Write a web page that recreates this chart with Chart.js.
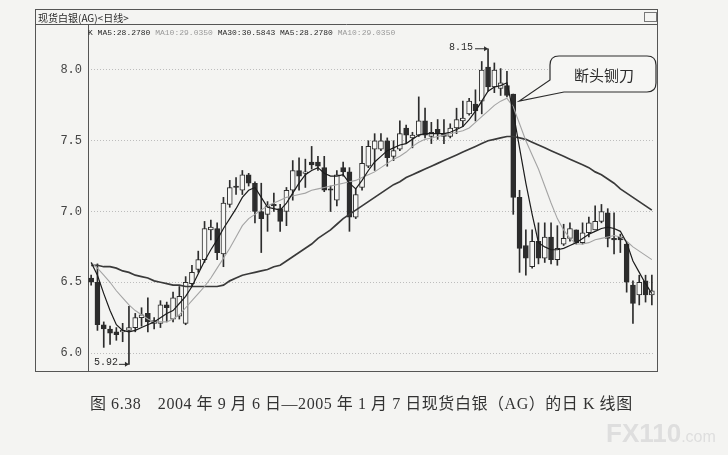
<!DOCTYPE html>
<html>
<head>
<meta charset="utf-8">
<script src="https://cdn.jsdelivr.net/npm/chart.js@4.4.1/dist/chart.umd.min.js"></script>
<style>
  body { margin: 0; background: #f4f4f2; }
  #wrap { position: relative; width: 728px; height: 455px; overflow: hidden; }
  #c { position: absolute; left: 0; top: 0; }
  .txt { position: absolute; white-space: nowrap; color: #2a2a2a; }
  .mono { font-family: "Liberation Mono", "DejaVu Sans Mono", monospace; }
  .light { color: #9a9a9a; }
</style>
</head>
<body>
<div id="wrap">
  <canvas id="c" width="728" height="455"></canvas>
  <div class="txt" style="left:38px;top:10px;font:10px 'Noto Sans CJK SC';">现货白银(AG)&lt;日线&gt;</div>
  <div class="txt mono" style="left:88px;top:28px;font-size:8px;">K MA5:28.2780 <span class="light">MA10:29.0350</span> MA30:30.5843 MA5:28.2780 <span class="light">MA10:29.0350</span></div>
  <div style="position:absolute;left:644px;top:12px;width:11px;height:8px;border:1px solid #777;"></div>
  <div id="hiLabel" class="txt mono" style="font-size:10px;">8.15</div>
  <div id="loLabel" class="txt mono" style="font-size:10px;">5.92</div>
  <div class="txt" style="left:574px;top:64px;font:15px 'Noto Sans CJK SC';">断头铡刀</div>
  <div class="txt" style="left:90px;top:390px;font:16px 'Liberation Serif','Noto Sans CJK SC';letter-spacing:0.55px;color:#333;">图 6.38　2004 年 9 月 6 日—2005 年 1 月 7 日现货白银（AG）的日 K 线图</div>
  <div class="txt" style="left:606px;top:418px;font:bold 26px 'Liberation Sans';color:#dedede;">FX110<span style="font-size:16px;font-weight:normal;">.com</span></div>
</div>
<script>
// daily candles
const opens = [6.53, 6.50, 6.20, 6.17, 6.15, 6.15, 6.16, 6.18, 6.25, 6.28,
  6.21, 6.21, 6.34, 6.24, 6.26, 6.21, 6.49, 6.59, 6.66, 6.87,
  6.88, 6.70, 7.05, 7.18, 7.15, 7.26, 7.20, 7.00, 6.98, 7.05,
  7.02, 7.00, 7.15, 7.29, 7.27, 7.35, 7.35, 7.31, 7.16, 7.08,
  7.31, 7.28, 6.96, 7.17, 7.32, 7.44, 7.44, 7.50, 7.39, 7.44,
  7.59, 7.52, 7.54, 7.64, 7.53, 7.58, 7.55, 7.53, 7.59, 7.64,
  7.69, 7.76, 7.78, 8.02, 7.88, 7.87, 7.89, 7.83, 7.10, 6.76,
  6.61, 6.79, 6.67, 6.82, 6.66, 6.77, 6.81, 6.87, 6.78, 6.85,
  6.87, 6.93, 6.99, 6.81, 6.82, 6.77, 6.48, 6.41, 6.51, 6.41]
const closes = [6.50, 6.20, 6.17, 6.14, 6.13, 6.16, 6.18, 6.25, 6.27, 6.22,
  6.23, 6.34, 6.32, 6.39, 6.40, 6.50, 6.57, 6.66, 6.88, 6.89,
  6.71, 7.06, 7.17, 7.17, 7.26, 7.20, 7.00, 6.95, 7.04, 7.04,
  6.93, 7.15, 7.29, 7.25, 7.28, 7.33, 7.32, 7.15, 7.15, 7.26,
  7.28, 6.96, 7.12, 7.34, 7.46, 7.50, 7.50, 7.38, 7.43, 7.55,
  7.54, 7.54, 7.64, 7.54, 7.56, 7.55, 7.53, 7.59, 7.65, 7.66,
  7.78, 7.71, 8.00, 7.88, 8.00, 7.91, 7.82, 7.10, 6.74, 6.67,
  6.79, 6.67, 6.82, 6.66, 6.74, 6.81, 6.88, 6.78, 6.85, 6.92,
  6.93, 7.00, 6.81, 6.80, 6.80, 6.50, 6.35, 6.50, 6.41, 6.44]
const highs = [6.55, 6.63, 6.22, 6.19, 6.18, 6.21, 6.33, 6.28, 6.32, 6.39,
  6.25, 6.37, 6.36, 6.43, 6.47, 6.54, 6.62, 6.72, 6.93, 6.94,
  6.92, 7.10, 7.22, 7.24, 7.29, 7.27, 7.21, 7.20, 7.07, 7.13,
  7.05, 7.17, 7.36, 7.38, 7.37, 7.46, 7.39, 7.39, 7.18, 7.29,
  7.35, 7.31, 7.16, 7.46, 7.50, 7.55, 7.55, 7.52, 7.50, 7.64,
  7.61, 7.56, 7.81, 7.73, 7.63, 7.65, 7.65, 7.62, 7.73, 7.78,
  7.80, 7.86, 8.06, 8.15, 8.05, 8.01, 7.99, 7.83, 7.15, 6.87,
  6.87, 6.92, 6.92, 6.92, 6.90, 6.91, 6.92, 6.87, 6.92, 6.96,
  7.04, 7.05, 7.02, 6.99, 6.84, 6.78, 6.51, 6.55, 6.55, 6.55]
const lows = [6.48, 6.16, 6.04, 6.06, 6.09, 6.08, 5.92, 6.15, 6.19, 6.15,
  6.17, 6.18, 6.22, 6.22, 6.24, 6.20, 6.47, 6.57, 6.64, 6.80,
  6.66, 6.61, 7.03, 7.12, 7.12, 7.18, 6.92, 6.71, 6.86, 7.00,
  6.86, 6.90, 7.08, 7.15, 7.17, 7.30, 7.29, 7.14, 7.00, 7.04,
  7.25, 6.86, 6.95, 7.15, 7.31, 7.29, 7.43, 7.32, 7.36, 7.43,
  7.48, 7.45, 7.53, 7.52, 7.48, 7.51, 7.48, 7.52, 7.55, 7.60,
  7.68, 7.64, 7.69, 7.85, 7.84, 7.82, 7.81, 6.98, 6.57, 6.55,
  6.60, 6.63, 6.64, 6.63, 6.62, 6.76, 6.79, 6.77, 6.77, 6.82,
  6.87, 6.92, 6.75, 6.70, 6.71, 6.43, 6.21, 6.34, 6.36, 6.34]

// moving averages as drawn
const ma5 = [6.64, 6.55, 6.42, 6.30, 6.20, 6.16, 6.15, 6.16, 6.18, 6.20,
  6.22, 6.25, 6.28, 6.30, 6.35, 6.40, 6.47, 6.56, 6.65, 6.73,
  6.80, 6.88, 6.95, 7.02, 7.10, 7.15, 7.17, 7.10, 7.03, 7.02,
  7.01, 7.06, 7.13, 7.20, 7.26, 7.29, 7.31, 7.27, 7.25, 7.25,
  7.26, 7.20, 7.16, 7.22, 7.29, 7.35, 7.39, 7.43, 7.45, 7.47,
  7.48, 7.51, 7.54, 7.55, 7.55, 7.55, 7.55, 7.56, 7.58, 7.60,
  7.65, 7.71, 7.78, 7.85, 7.88, 7.89, 7.91, 7.70, 7.45, 7.20,
  6.98, 6.78, 6.75, 6.73, 6.73, 6.74, 6.76, 6.78, 6.81, 6.84,
  6.86, 6.88, 6.89, 6.88, 6.86, 6.78, 6.65, 6.57, 6.49, 6.42]
const ma10 = [6.64, 6.60, 6.55, 6.50, 6.44, 6.39, 6.34, 6.30, 6.27, 6.24,
  6.22, 6.22, 6.22, 6.24, 6.27, 6.32, 6.37, 6.42, 6.47, 6.53,
  6.60, 6.67, 6.74, 6.82, 6.90, 6.95, 6.98, 7.01, 7.04, 7.06,
  7.08, 7.10, 7.11, 7.12, 7.13, 7.15, 7.16, 7.17, 7.18, 7.19,
  7.20, 7.21, 7.22, 7.24, 7.26, 7.28, 7.31, 7.34, 7.37, 7.39,
  7.42, 7.46, 7.49, 7.51, 7.52, 7.53, 7.54, 7.55, 7.56, 7.57,
  7.59, 7.63, 7.67, 7.71, 7.75, 7.78, 7.80, 7.74, 7.62, 7.50,
  7.40, 7.30, 7.18, 7.06, 6.95, 6.87, 6.81, 6.77, 6.77, 6.78,
  6.80, 6.81, 6.82, 6.83, 6.82, 6.79, 6.75, 6.72, 6.69, 6.66]
const ma30 = [6.62, 6.62, 6.61, 6.61, 6.60, 6.58, 6.57, 6.55, 6.54, 6.53,
  6.51, 6.50, 6.49, 6.48, 6.48, 6.47, 6.47, 6.47, 6.47, 6.47,
  6.47, 6.48, 6.51, 6.53, 6.55, 6.56, 6.57, 6.58, 6.59, 6.61,
  6.62, 6.65, 6.68, 6.71, 6.74, 6.77, 6.81, 6.84, 6.87, 6.91,
  6.95, 6.98, 7.01, 7.04, 7.07, 7.10, 7.13, 7.16, 7.19, 7.21,
  7.24, 7.26, 7.28, 7.30, 7.32, 7.34, 7.36, 7.38, 7.40, 7.42,
  7.44, 7.46, 7.48, 7.50, 7.51, 7.52, 7.53, 7.53, 7.52, 7.51,
  7.49, 7.47, 7.45, 7.43, 7.41, 7.39, 7.37, 7.35, 7.33, 7.31,
  7.28, 7.26, 7.23, 7.20, 7.16, 7.13, 7.10, 7.07, 7.04, 7.01]

const yTicks = [6.0, 6.5, 7.0, 7.5, 8.0]
const peakIndex = 63
const troughIndex = 6
const knifeIndex = 67

const ink = '#2c2c2c'
const labels = opens.map((_, i) => i + 1)
const bodies = opens.map((o, i) => [Math.min(o, closes[i]), Math.max(o, closes[i])])
const wicks = lows.map((l, i) => [l, highs[i]])
const bodyFill = opens.map((o, i) => closes[i] >= o ? '#f7f7f5' : ink)

const framePlugin = {
  id: 'frame',
  beforeDatasetsDraw(chart) {
    const ctx = chart.ctx
    ctx.save()
    ctx.strokeStyle = '#555'
    ctx.lineWidth = 1
    ctx.strokeRect(35.5, 9.5, 622, 362)
    ctx.beginPath()
    ctx.moveTo(35, 24.5); ctx.lineTo(658, 24.5)
    ctx.moveTo(88.5, 24.5); ctx.lineTo(88.5, 372)
    ctx.stroke()
    ctx.restore()
  },
  afterDraw(chart) {
    const ctx = chart.ctx
    const xs = chart.scales.x, ys = chart.scales.y
    ctx.save()
    ctx.strokeStyle = ink
    ctx.fillStyle = ink
    ctx.lineWidth = 1

    // arrow to the peak high
    const px = xs.getPixelForValue(peakIndex), py = ys.getPixelForValue(highs[peakIndex])
    ctx.beginPath()
    ctx.moveTo(px - 13, py); ctx.lineTo(px - 1, py)
    ctx.stroke()
    ctx.beginPath()
    ctx.moveTo(px, py); ctx.lineTo(px - 4, py - 2.5); ctx.lineTo(px - 4, py + 2.5)
    ctx.fill()

    // arrow to the trough low
    const tx = xs.getPixelForValue(troughIndex), ty = ys.getPixelForValue(lows[troughIndex])
    ctx.beginPath()
    ctx.moveTo(tx - 10, ty); ctx.lineTo(tx - 1, ty)
    ctx.stroke()
    ctx.beginPath()
    ctx.moveTo(tx, ty); ctx.lineTo(tx - 4, ty - 2.5); ctx.lineTo(tx - 4, ty + 2.5)
    ctx.fill()

    // callout bubble
    const kx = xs.getPixelForValue(knifeIndex) + 6
    const ky = ys.getPixelForValue(7.78)
    const l = 550, t = 56, r = 656, b = 92, rad = 9
    ctx.beginPath()
    ctx.moveTo(l + rad, t)
    ctx.lineTo(r - rad, t)
    ctx.quadraticCurveTo(r, t, r, t + rad)
    ctx.lineTo(r, b - rad)
    ctx.quadraticCurveTo(r, b, r - rad, b)
    ctx.lineTo(l + 14, b)
    ctx.lineTo(kx, ky)
    ctx.lineTo(l, b - 12)
    ctx.lineTo(l, t + rad)
    ctx.quadraticCurveTo(l, t, l + rad, t)
    ctx.closePath()
    ctx.fillStyle = '#f6f6f4'
    ctx.fill()
    ctx.lineWidth = 1.2
    ctx.stroke()
    ctx.restore()
  }
}

const chart = new Chart(document.getElementById('c'), {
  type: 'bar',
  data: {
    labels: labels,
    datasets: [
      { type: 'line', label: 'MA5', data: ma5, borderColor: '#1c1c1c', borderWidth: 1.2, pointRadius: 0, order: 0 },
      { type: 'line', label: 'MA10', data: ma10, borderColor: '#a4a4a4', borderWidth: 1.1, pointRadius: 0, order: 0 },
      { type: 'line', label: 'MA30', data: ma30, borderColor: '#3a3a3a', borderWidth: 1.7, pointRadius: 0, order: 0 },
      {
        label: 'body', data: bodies, backgroundColor: bodyFill, borderColor: ink,
        borderWidth: 1, borderSkipped: false, barThickness: 5, grouped: false, order: 1
      },
      { label: 'wick', data: wicks, backgroundColor: ink, barThickness: 1, grouped: false, order: 2 }
    ]
  },
  options: {
    responsive: false, animation: false,
    layout: { padding: { left: 35, right: 73, top: 24, bottom: 83 } },
    plugins: { legend: { display: false }, tooltip: { enabled: false } },
    scales: {
      x: { display: false, offset: true, grid: { display: false } },
      y: {
        min: 5.866, max: 8.325,
        afterBuildTicks: s => { s.ticks = yTicks.map(v => ({ value: v })) },
        afterFit: s => { s.width = 53 },
        ticks: {
          padding: 6, color: '#444',
          font: { family: 'Liberation Mono', size: 12 },
          callback: v => v.toFixed(1)
        },
        grid: { color: '#bdbdbd', drawTicks: false },
        border: { display: false, dash: [1, 2] }
      }
    }
  },
  plugins: [framePlugin]
})

// place the two price notes next to their arrows
const xs = chart.scales.x, ys = chart.scales.y
const hi = document.getElementById('hiLabel')
hi.style.left = (xs.getPixelForValue(peakIndex) - 39) + 'px'
hi.style.top = (ys.getPixelForValue(highs[peakIndex]) - 7) + 'px'
const lo = document.getElementById('loLabel')
lo.style.left = (xs.getPixelForValue(troughIndex) - 35) + 'px'
lo.style.top = (ys.getPixelForValue(lows[troughIndex]) - 7) + 'px'
</script>
</body>
</html>
